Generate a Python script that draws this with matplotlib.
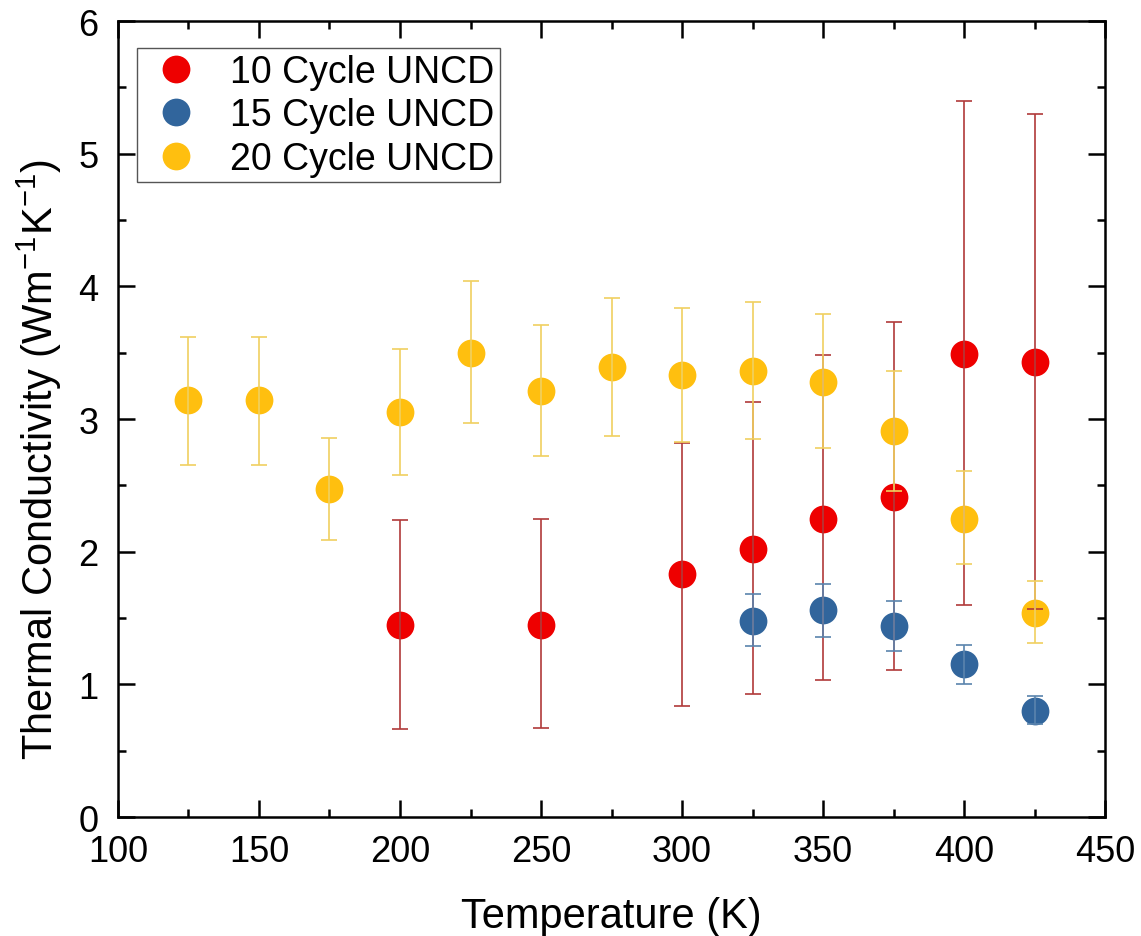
import numpy as np
import matplotlib
matplotlib.use('Agg')
import matplotlib.pyplot as plt
from matplotlib.ticker import MultipleLocator

plt.rcParams['font.family'] = ['Liberation Sans', 'DejaVu Sans']
plt.rcParams['mathtext.default'] = 'regular'

# 10 Cycle UNCD
t10 = [200, 250, 300, 325, 350, 375, 400, 425]
k10 = [1.45, 1.45, 1.83, 2.02, 2.25, 2.41, 3.49, 3.43]
lo10 = [0.66, 0.67, 0.84, 0.93, 1.03, 1.11, 1.60, 1.57]
hi10 = [2.24, 2.25, 2.82, 3.13, 3.48, 3.73, 5.40, 5.30]

# 15 Cycle UNCD
t15 = [325, 350, 375, 400, 425]
k15 = [1.48, 1.56, 1.44, 1.15, 0.80]
lo15 = [1.29, 1.36, 1.25, 1.00, 0.70]
hi15 = [1.68, 1.76, 1.63, 1.30, 0.91]

# 20 Cycle UNCD
t20 = [125, 150, 175, 200, 225, 250, 275, 300, 325, 350, 375, 400, 425]
k20 = [3.14, 3.14, 2.47, 3.05, 3.50, 3.21, 3.39, 3.33, 3.36, 3.28, 2.91, 2.25, 1.54]
lo20 = [2.65, 2.65, 2.09, 2.58, 2.97, 2.72, 2.87, 2.83, 2.85, 2.78, 2.46, 1.91, 1.31]
hi20 = [3.62, 3.62, 2.86, 3.53, 4.04, 3.71, 3.91, 3.84, 3.88, 3.79, 3.36, 2.61, 1.78]

series = [
    ('10 Cycle UNCD', t10, k10, lo10, hi10, '#ee0000', '#b03a3a'),
    ('15 Cycle UNCD', t15, k15, lo15, hi15, '#31659c', '#5a84ad'),
    ('20 Cycle UNCD', t20, k20, lo20, hi20, '#ffbf0f', '#f0d060'),
]

fig = plt.figure(figsize=(11.41, 9.37), dpi=100)
ax = fig.add_axes([0.1034, 0.127, 0.8651, 0.8495])

for name, t, k, lo, hi, c, ec in series:
    ax.plot(t, k, 'o', color=c, markersize=20, markeredgewidth=0, label=name, zorder=2)
for name, t, k, lo, hi, c, ec in series:
    k = np.array(k)
    err = [k - np.array(lo), np.array(hi) - k]
    ax.errorbar(t, k, yerr=err, fmt='none', ecolor=ec, elinewidth=1.2,
                capsize=6, capthick=1.2, zorder=3)

ax.set_xlim(100, 450)
ax.set_ylim(0, 6)
ax.xaxis.set_major_locator(MultipleLocator(50))
ax.xaxis.set_minor_locator(MultipleLocator(25))
ax.yaxis.set_major_locator(MultipleLocator(1))
ax.yaxis.set_minor_locator(MultipleLocator(0.5))
ax.tick_params(which='both', direction='in', top=True, right=True, labelsize=26, width=1.8)
ax.tick_params(which='major', length=12)
ax.tick_params(axis='x', which='major', pad=12)
ax.tick_params(axis='y', which='major', pad=14)
ax.tick_params(which='minor', length=6)
for s in ax.spines.values():
    s.set_linewidth(1.8)

ax.set_xlabel('Temperature (K)', fontsize=30, labelpad=20)
ax.set_ylabel('Thermal Conductivity (Wm$^{-1}$K$^{-1}$)', fontsize=30)
ax.yaxis.set_label_coords(-0.055, 0.45)

leg = ax.legend(loc='upper left', bbox_to_anchor=(0.019, 0.966), fontsize=27,
                frameon=True, fancybox=False, edgecolor='#555555', framealpha=1,
                handletextpad=0.55, borderpad=0.15, labelspacing=0.2, handlelength=1.8,
                borderaxespad=0)
leg.get_frame().set_linewidth(1.0)

fig.savefig('out.png', dpi=100)
